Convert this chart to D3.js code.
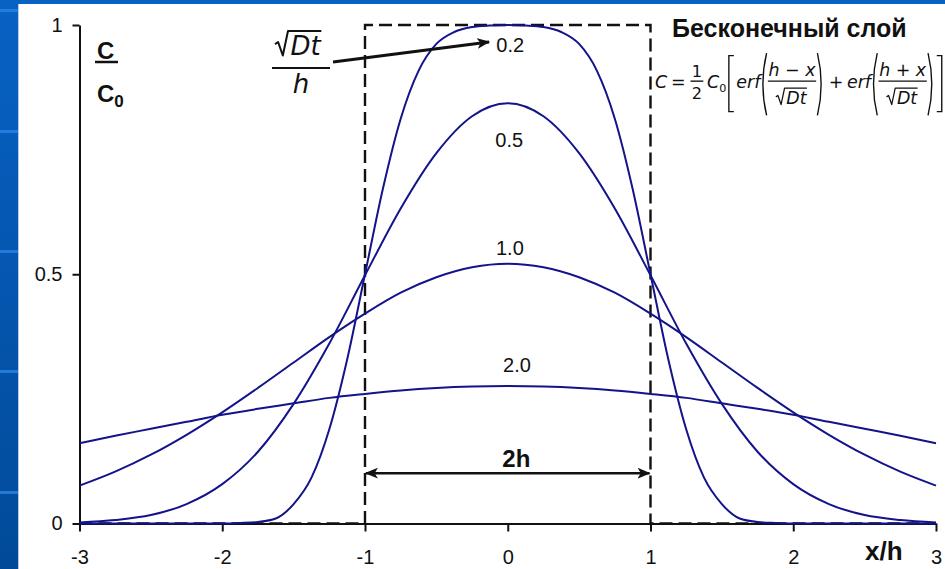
<!DOCTYPE html>
<html>
<head>
<meta charset="utf-8">
<script src="https://cdn.jsdelivr.net/npm/d3@7"></script>
<style>
  html, body { margin: 0; padding: 0; background: #fff; }
  svg { display: block; }
</style>
</head>
<body>
<svg id="chart" width="945" height="569"></svg>
<script>
// Concentration profiles C/C0 across an infinite layer of thickness 2h,
// one curve per value of sqrt(Dt)/h.

// x/h positions for the wider profiles
const xCoarse = [-3, -2.75, -2.5, -2.25, -2, -1.75, -1.5, -1.25, -1, -0.75, -0.5, -0.25, 0,
                 0.25, 0.5, 0.75, 1, 1.25, 1.5, 1.75, 2, 2.25, 2.5, 2.75, 3];
// sqrt(Dt)/h = 2.0
const cT20 = [0.161, 0.176, 0.190, 0.204, 0.218, 0.230, 0.241, 0.252, 0.260, 0.267, 0.272, 0.275, 0.276,
              0.275, 0.272, 0.267, 0.260, 0.252, 0.241, 0.230, 0.218, 0.204, 0.190, 0.176, 0.161];
// sqrt(Dt)/h = 1.0
const cT10 = [0.076, 0.104, 0.138, 0.178, 0.223, 0.272, 0.323, 0.374, 0.421, 0.463, 0.494, 0.514, 0.521,
              0.514, 0.494, 0.463, 0.421, 0.374, 0.323, 0.272, 0.223, 0.178, 0.138, 0.104, 0.076];
// sqrt(Dt)/h = 0.5
const cT05 = [0.002, 0.007, 0.017, 0.039, 0.079, 0.144, 0.240, 0.361, 0.498, 0.632, 0.743, 0.817, 0.843,
              0.817, 0.743, 0.632, 0.498, 0.361, 0.240, 0.144, 0.079, 0.039, 0.017, 0.007, 0.002];

// x/h positions for the narrow profile
const xFine = [-3, -2, -1.875, -1.75, -1.625, -1.5, -1.375, -1.25, -1.125, -1, -0.875, -0.75, -0.625, -0.5,
               -0.375, -0.25, -0.125, 0, 0.125, 0.25, 0.375, 0.5, 0.625, 0.75, 0.875, 1, 1.125, 1.25,
               1.375, 1.5, 1.625, 1.75, 1.875, 2, 3];
// sqrt(Dt)/h = 0.2
const cT02 = [0, 0, 0.001, 0.003, 0.010, 0.039, 0.092, 0.189, 0.329, 0.500, 0.671, 0.812, 0.908, 0.962,
              0.986, 0.996, 0.999, 1.000, 0.999, 0.996, 0.986, 0.962, 0.908, 0.812, 0.671, 0.500, 0.329,
              0.189, 0.092, 0.039, 0.010, 0.003, 0.001, 0, 0];

// initial step profile (t = 0)
const stepX = [-3, -1, -1, 1, 1, 3];
const stepC = [0, 0, 1, 1, 0, 0];

const xTicks = [-3, -2, -1, 0, 1, 2, 3];
const xTickLabels = ["-3", "-2", "-1", "0", "1", "2", "3"];
const yTicks = [0, 0.5, 1];
const yTickLabels = ["0", "0.5", "1"];

const curveLabels = ["0.2", "0.5", "1.0", "2.0"];
// label anchor points in data units (x/h, C/C0)
const labelX = [-0.08, 0.01, 0.015, 0.065];
const labelC = [0.946, 0.756, 0.539, 0.304];

const series = [
  { x: xFine, c: cT02 },
  { x: xCoarse, c: cT05 },
  { x: xCoarse, c: cT10 },
  { x: xCoarse, c: cT20 }
];

const W = 945, H = 569;
const svg = d3.select("#chart");
const SANS = "'Liberation Sans', Arial, Helvetica, sans-serif";
const MATH = "'DejaVu Sans', Verdana, sans-serif";
const INK = "#111";
const CURVE = "#13138a";

// ---- slide backdrop ----
const defs = svg.append("defs");
const grad = defs.append("linearGradient").attr("id", "bg").attr("x1", 0).attr("y1", 0).attr("x2", 0).attr("y2", 1);
grad.append("stop").attr("offset", "0%").attr("stop-color", "#0862c4");
grad.append("stop").attr("offset", "100%").attr("stop-color", "#014a99");
svg.append("rect").attr("width", W).attr("height", H).attr("fill", "url(#bg)");
svg.selectAll("rect.stripe").data([9, 130, 250, 370, 491]).join("rect")
  .attr("class", "stripe").attr("x", 0).attr("y", d => d).attr("width", 18).attr("height", 3)
  .attr("fill", "#2a80e2").attr("opacity", 0.85);
svg.append("rect").attr("x", 18).attr("y", 4).attr("width", W - 18).attr("height", H - 4).attr("fill", "#fff");
svg.append("line").attr("x1", 18.5).attr("x2", 18.5).attr("y1", 4).attr("y2", H)
  .attr("stroke", "#b8cbe6").attr("stroke-width", 1);

// arrowhead
defs.append("marker").attr("id", "head")
  .attr("viewBox", "0 0 12 10").attr("refX", 11).attr("refY", 5)
  .attr("markerWidth", 13).attr("markerHeight", 11).attr("markerUnits", "userSpaceOnUse")
  .attr("orient", "auto-start-reverse")
  .append("path").attr("d", "M0,0 L12,5 L0,10 L3,5 Z").attr("fill", INK);

// ---- scales ----
const margin = { left: 79.5, right: 9, top: 25, bottom: 45.5 };
const x = d3.scaleLinear().domain([-3, 3]).range([margin.left, W - margin.right]);
const y = d3.scaleLinear().domain([0, 1]).range([H - margin.bottom, margin.top]);

// ---- axes ----
const xAxis = d3.axisBottom(x).tickValues(xTicks).tickSize(8).tickSizeOuter(0).tickPadding(18)
  .tickFormat((d, i) => xTickLabels[i]);
const yAxis = d3.axisLeft(y).tickValues(yTicks).tickSize(7).tickSizeOuter(0).tickPadding(10)
  .tickFormat((d, i) => yTickLabels[i]);

const gx = svg.append("g").attr("transform", `translate(0,${y(0)})`).call(xAxis);
const gy = svg.append("g").attr("transform", `translate(${x(-3)},0)`).call(yAxis);
[gx, gy].forEach(g => {
  g.select(".domain").attr("stroke", INK).attr("stroke-width", 2);
  g.selectAll(".tick line").attr("stroke", INK).attr("stroke-width", 2);
  g.selectAll(".tick text").attr("font-family", SANS).attr("font-size", 20).attr("fill", INK);
});

// ---- initial step profile ----
const stepLine = d3.line().x((d, i) => x(stepX[i])).y((d, i) => y(stepC[i]));
svg.append("path").attr("d", stepLine(stepX))
  .attr("fill", "none").attr("stroke", INK).attr("stroke-width", 2.4)
  .attr("stroke-dasharray", "13,6");

// ---- profiles ----
const line = d3.line().curve(d3.curveMonotoneX);
svg.selectAll("path.profile").data(series).join("path")
  .attr("class", "profile")
  .attr("d", s => line(s.x.map((v, i) => [x(v), y(s.c[i])])))
  .attr("fill", "none").attr("stroke", CURVE).attr("stroke-width", 2);

// curve labels
svg.selectAll("text.clabel").data(curveLabels).join("text")
  .attr("class", "clabel")
  .attr("x", (d, i) => x(labelX[i])).attr("y", (d, i) => y(labelC[i]))
  .attr("text-anchor", (d, i) => i === 0 ? "start" : "middle")
  .attr("font-family", SANS).attr("font-size", 20).attr("fill", INK)
  .text(d => d);

// ---- 2h dimension ----
const dimC = 0.101;
svg.append("line")
  .attr("x1", x(-1) + 1).attr("x2", x(1) - 1).attr("y1", y(dimC)).attr("y2", y(dimC))
  .attr("stroke", INK).attr("stroke-width", 2.5)
  .attr("marker-start", "url(#head)").attr("marker-end", "url(#head)");
svg.append("text").attr("x", x(0.06)).attr("y", y(0.113)).attr("text-anchor", "middle")
  .attr("font-family", SANS).attr("font-weight", "bold").attr("font-size", 24).attr("fill", INK)
  .text("2h");

// ---- axis captions ----
svg.append("text").attr("x", 97).attr("y", 59).attr("font-family", SANS).attr("font-weight", "bold")
  .attr("font-size", 24).attr("fill", INK).text("C");
svg.append("line").attr("x1", 95).attr("x2", 118).attr("y1", 62).attr("y2", 62)
  .attr("stroke", INK).attr("stroke-width", 2.5);
const c0 = svg.append("text").attr("x", 97).attr("y", 102).attr("font-family", SANS).attr("font-weight", "bold")
  .attr("font-size", 24).attr("fill", INK);
c0.append("tspan").text("C");
c0.append("tspan").attr("font-size", 17).attr("dy", 5).text("0");

svg.append("text").attr("x", 865).attr("y", 560).attr("font-family", SANS).attr("font-weight", "bold")
  .attr("font-size", 26).attr("fill", INK).text("x/h");

svg.append("text").attr("x", 672).attr("y", 37).attr("font-family", SANS).attr("font-weight", "bold")
  .attr("font-size", 25).attr("fill", INK).text("Бесконечный слой");

// ---- radical helper ----
function radical(g, x0, base, fs, w, sw) {
  const p = `M${x0},${base - 0.42 * fs} L${x0 + 0.12 * fs},${base - 0.5 * fs} L${x0 + 0.3 * fs},${base + 0.02 * fs}` +
            ` L${x0 + 0.5 * fs},${base - 0.92 * fs} H${x0 + 0.62 * fs + w}`;
  g.append("path").attr("d", p).attr("fill", "none").attr("stroke", INK)
    .attr("stroke-width", sw).attr("stroke-linejoin", "round");
}

// ---- sqrt(Dt)/h tag with its arrow ----
const tag = svg.append("g");
{
  const fs = 26;
  const t = tag.append("text").attr("x", 275 + 0.6 * fs).attr("y", 55)
    .attr("font-family", MATH).attr("font-style", "italic").attr("font-size", fs).attr("fill", INK).text("Dt");
  const w = t.node().getComputedTextLength();
  radical(tag, 275, 55, fs, w, 2);
  tag.append("line").attr("x1", 272).attr("x2", 330).attr("y1", 68).attr("y2", 68)
    .attr("stroke", INK).attr("stroke-width", 2);
  tag.append("text").attr("x", 301).attr("y", 93).attr("text-anchor", "middle")
    .attr("font-family", MATH).attr("font-style", "italic").attr("font-size", fs).attr("fill", INK).text("h");
}
svg.append("line")
  .attr("x1", x(-1.224)).attr("y1", y(0.926)).attr("x2", x(-0.131)).attr("y2", y(0.966))
  .attr("stroke", INK).attr("stroke-width", 3).attr("marker-end", "url(#head)");

// ---- solution formula ----
const fml = svg.append("g");
(function buildFormula(g) {
  const fs = 14, fsHalf = 13, fsSub = 9;
  const put = (s, px, py, size, italic, anchor) => {
    const t = g.append("text").attr("x", px).attr("y", py)
      .attr("font-family", MATH).attr("font-size", size).attr("fill", INK)
      .attr("font-style", italic ? "italic" : "normal")
      .attr("text-anchor", anchor || "start").text(s);
    return t.node().getComputedTextLength();
  };
  const measure = (s, size, italic) => {
    const t = g.append("text").attr("font-family", MATH).attr("font-size", size)
      .attr("font-style", italic ? "italic" : "normal").text(s);
    const w = t.node().getComputedTextLength(); t.remove(); return w;
  };
  const stroke = (d, sw) => g.append("path").attr("d", d).attr("fill", "none")
    .attr("stroke", INK).attr("stroke-width", sw || 1.1);

  let cx = 0;
  cx += put("C", cx, 0, fs, true) + 3;
  cx += put("=", cx, 0, fs, false) + 4;
  // one half
  {
    const fw = measure("2", fsHalf, false) + 2;
    put("1", cx + fw / 2, -9, fsHalf, false, "middle");
    stroke(`M${cx},-5.5 H${cx + fw}`);
    put("2", cx + fw / 2, 9, fsHalf, false, "middle");
    cx += fw + 3;
  }
  cx += put("C", cx, 0, fs, true);
  cx += put("0", cx, 3, fsSub, false) + 1;
  stroke(`M${cx + 5},-26 H${cx + 1} V19 H${cx + 5}`);
  cx += 7;

  ["h \u2212 x", "h + x"].forEach((num, k) => {
    if (k === 1) { cx += 3; cx += put("+", cx, 0, fs, false) + 3; }
    cx += put("erf", cx, 0, fs, true);
    stroke(`M${cx + 5},-28 Q${cx - 1},-3 ${cx + 5},22`);
    cx += 6;
    const wn = measure(num, fs, true);
    const wd = measure("Dt", fs, true);
    const dw = 0.62 * fs + wd + 1;
    const fw = Math.max(wn, dw) + 1;
    put(num, cx + fw / 2, -10, fs, true, "middle");
    stroke(`M${cx},-5.5 H${cx + fw}`);
    const d0 = cx + (fw - dw) / 2;
    radical(g, d0, 13, fs, wd, 1);
    put("Dt", d0 + 0.6 * fs, 13, fs, true);
    cx += fw;
    stroke(`M${cx + 1},-28 Q${cx + 7},-3 ${cx + 1},22`);
    cx += 7;
  });
  stroke(`M${cx + 1},-26 H${cx + 5} V19 H${cx + 1}`);
  cx += 6;

  const target = 943 - 655;
  const s = target / cx;
  g.attr("transform", `translate(655,88) scale(${s})`);
})(fml);
</script>
</body>
</html>
